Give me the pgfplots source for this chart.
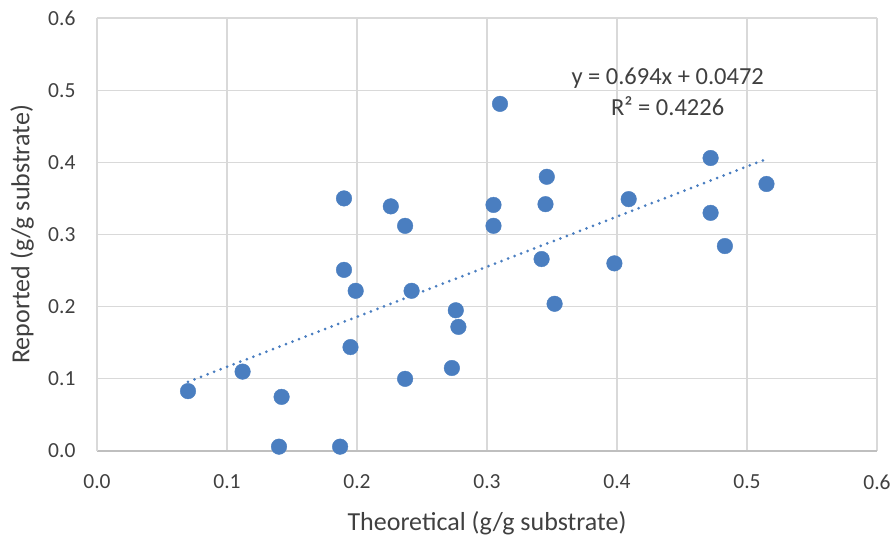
\documentclass[border=0pt]{standalone}
\usepackage{fontspec}
\setmainfont{Carlito}
\usepackage{pgfplots}
\pgfplotsset{compat=1.18}
\definecolor{dotblue}{RGB}{74,126,192}
\definecolor{gridgray}{RGB}{217,217,217}
\definecolor{axgray}{RGB}{191,191,191}
\definecolor{txt}{RGB}{64,64,64}
\begin{document}
\begin{tikzpicture}
\begin{axis}[
  at={(0,0)}, anchor=south west,
  scale only axis, width=780pt, height=433pt,
  xmin=0, xmax=0.6, ymin=0, ymax=0.6,
  xtick={0,0.1,...,0.6}, ytick={0,0.1,...,0.6},
  xticklabels={0.0,0.1,0.2,0.3,0.4,0.5,0.6},
  yticklabels={0.0,0.1,0.2,0.3,0.4,0.5,0.6},
  ticklabel style={font=\fontsize{21.5}{24}\selectfont, text=txt},
  /pgf/number format/assume math mode=true,
  tick style={draw=none},
  grid=major, grid style={gridgray, line width=1.3pt},
  axis x line*=bottom, axis y line*=left,
  x axis line style={axgray, line width=1.5pt, -},
  y axis line style={gridgray, line width=1.3pt, -},
  xticklabel style={yshift=-20pt},
  yticklabel style={xshift=-18pt},
  xlabel={Theoretical (g/g substrate)},
  ylabel={Reported (g/g substrate)},
  label style={text=txt, font=\fontsize{26}{30}\selectfont},
  xlabel style={at={(axis description cs:0.5,-0.166)}, anchor=center},
  ylabel style={at={(axis description cs:-0.096,0.5)}, anchor=center, rotate=0},
  clip=false,
]
\addplot[only marks, mark=*, mark size=7.8pt, mark options={fill=dotblue, draw=dotblue}] coordinates {
(0.070,0.083) (0.112,0.110) (0.142,0.075) (0.140,0.006) (0.187,0.006)
(0.190,0.350) (0.190,0.251) (0.195,0.144) (0.199,0.222) (0.226,0.339)
(0.237,0.312) (0.237,0.100) (0.242,0.222) (0.273,0.115) (0.276,0.195)
(0.278,0.172) (0.305,0.341) (0.305,0.312) (0.310,0.481) (0.342,0.266)
(0.345,0.342) (0.346,0.380) (0.352,0.204) (0.398,0.260) (0.409,0.349)
(0.472,0.406) (0.472,0.330) (0.483,0.284) (0.515,0.370)
};
\addplot[dotblue, line width=3pt, line cap=round, dash pattern=on 0pt off 7pt] coordinates {
(0.070,0.0958) (0.515,0.4046)
};
\node[text=txt, font=\fontsize{24.5}{28}\selectfont] at (axis cs:0.439,0.517) {y = 0.694x + 0.0472};
\node[text=txt, font=\fontsize{24.5}{28}\selectfont] at (axis cs:0.439,0.478) {R² = 0.4226};
\end{axis}
\useasboundingbox (-97pt,-88pt) rectangle (798pt,451pt);
\end{tikzpicture}
\end{document}
